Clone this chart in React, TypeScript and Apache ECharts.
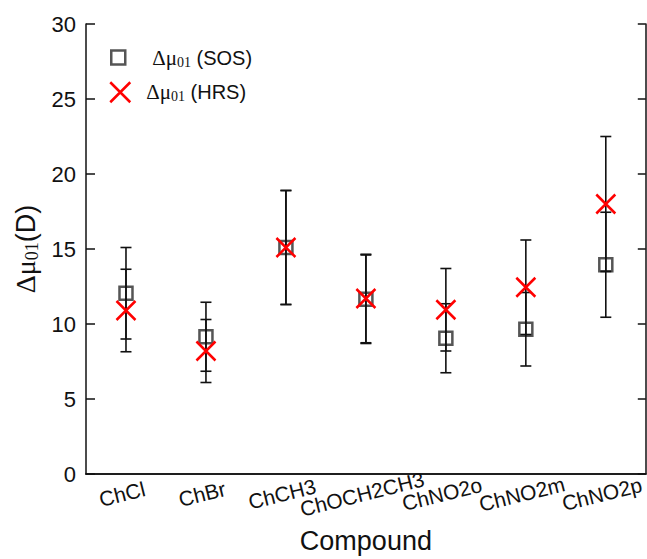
import React, { useEffect, useRef } from "react";
import * as echarts from "echarts";

const categories = ["ChCl", "ChBr", "ChCH3", "ChOCH2CH3", "ChNO2o", "ChNO2m", "ChNO2p"];
const sosValues = [12.05, 9.15, 15.1, 11.65, 9.05, 9.65, 13.95];
const sosErrors = [3.05, 2.3, 3.8, 2.95, 2.3, 2.45, 3.5];
const hrsValues = [10.9, 8.2, 15.1, 11.7, 10.95, 12.45, 18.0];
const hrsErrors = [2.75, 2.1, 3.8, 2.95, 2.75, 3.15, 4.5];
const yTicks = [0, 5, 10, 15, 20, 25, 30];

const SERIF = "'Liberation Serif', 'DejaVu Serif', serif";
const SANS = "'Liberation Sans', Arial, sans-serif";

const X_ICON = "path://M0,0L10,10M0,10L10,0";

export default function App() {
  const ref = useRef<HTMLDivElement>(null);
  useEffect(() => {
    if (!ref.current) return;
    document.body.style.margin = "0";
    document.body.style.overflow = "hidden";
    const chart = echarts.init(ref.current, undefined, { renderer: "svg" });

    const errData = (vals: number[], errs: number[]) =>
      vals.map((v, i) => [i, v - errs[i], v + errs[i]]);

    const renderErr = (params: any, api: any) => {
      const x = api.value(0);
      const lo = api.coord([x, api.value(1)]);
      const hi = api.coord([x, api.value(2)]);
      const w = 5.5;
      const style = { stroke: "#111", lineWidth: 1.6 };
      return {
        type: "group",
        children: [
          { type: "line", shape: { x1: lo[0], y1: lo[1], x2: hi[0], y2: hi[1] }, style },
          { type: "line", shape: { x1: lo[0] - w, y1: lo[1], x2: lo[0] + w, y2: lo[1] }, style },
          { type: "line", shape: { x1: hi[0] - w, y1: hi[1], x2: hi[0] + w, y2: hi[1] }, style },
        ],
      };
    };

    const legendRich = {
      d: { fontFamily: SERIF, fontSize: 21, color: "#111" },
      s: { fontFamily: SERIF, fontSize: 14, color: "#111", verticalAlign: "bottom", padding: [9, 0, 0, 0] },
      t: { fontFamily: SANS, fontSize: 20, color: "#111" },
    };

    chart.setOption({
      animation: false,
      backgroundColor: "#ffffff",
      grid: { left: 86, right: 1, top: 24, bottom: 83, containLabel: false },
      legend: [
        {
          data: [{ name: "SOS", icon: "rect" }],
          left: 105,
          top: 42,
          itemWidth: 14,
          itemHeight: 14,
          itemGap: 5,
          selectedMode: false,
          itemStyle: { color: "rgba(0,0,0,0)", borderColor: "#555", borderWidth: 2.5 },
          formatter: () => "{d|Δμ}{s|01}{t| (SOS)}",
          textStyle: { rich: legendRich, padding: [0, 0, 0, 22] },
        },
        {
          data: [{ name: "HRS", icon: X_ICON }],
          left: 104,
          top: 76,
          itemWidth: 22,
          itemHeight: 20,
          selectedMode: false,
          itemStyle: { color: "rgba(0,0,0,0)", borderColor: "#ff0000", borderWidth: 2.5 },
          formatter: () => "{d|Δμ}{s|01}{t| (HRS)}",
          textStyle: { rich: legendRich, padding: [0, 0, 0, 10] },
        },
      ],
      xAxis: [
        {
          type: "category",
          data: categories,
          position: "bottom",
          boundaryGap: true,
          name: "Compound",
          nameLocation: "middle",
          nameGap: 53,
          nameTextStyle: { fontFamily: SANS, fontSize: 27, color: "#111" },
          axisLine: { lineStyle: { color: "#111", width: 1.5 } },
          axisTick: { inside: true, alignWithLabel: true, length: 8, lineStyle: { color: "#111", width: 1.5 } },
          axisLabel: {
            rotate: 14,
            align: "center",
            verticalAlign: "middle",
            margin: 19,
            padding: [0, 8, 0, 0],
            fontFamily: SANS,
            fontSize: 21,
            color: "#111",
            interval: 0,
          },
          splitLine: { show: false },
        },
        {
          type: "category",
          data: categories,
          position: "top",
          boundaryGap: true,
          axisLine: { lineStyle: { color: "#111", width: 1.5 } },
          axisTick: { inside: true, alignWithLabel: true, length: 8, lineStyle: { color: "#111", width: 1.5 } },
          axisLabel: { show: false },
          splitLine: { show: false },
        },
      ],
      yAxis: [
        {
          type: "value",
          min: 0,
          max: 30,
          interval: 5,
          position: "left",
          name: "{d|Δμ}{s|01}{t|(D)}",
          nameLocation: "middle",
          nameRotate: 90,
          nameGap: 45,
          nameTextStyle: {
            rich: {
              d: { fontFamily: SERIF, fontSize: 28, color: "#111" },
              s: { fontFamily: SERIF, fontSize: 18, color: "#111", verticalAlign: "bottom", padding: [12, 0, 0, 0] },
              t: { fontFamily: SANS, fontSize: 27, color: "#111" },
            },
          },
          axisLine: { show: true, lineStyle: { color: "#111", width: 1.5 } },
          axisTick: { show: true, inside: true, length: 9, lineStyle: { color: "#111", width: 1.5 } },
          axisLabel: {
            fontFamily: SANS,
            fontSize: 22,
            color: "#111",
            margin: 10,
            formatter: (v: number) => (yTicks.includes(v) ? String(v) : ""),
          },
          splitLine: { show: false },
        },
        {
          type: "value",
          min: 0,
          max: 30,
          interval: 5,
          position: "right",
          axisLine: { show: true, lineStyle: { color: "#111", width: 1.5 } },
          axisTick: { show: true, inside: true, length: 8, lineStyle: { color: "#111", width: 1.5 } },
          axisLabel: { show: false },
          splitLine: { show: false },
        },
      ],
      series: [
        {
          name: "SOS",
          type: "scatter",
          symbol: "rect",
          symbolSize: 13,
          data: sosValues.map((v, i) => [i, v]),
          itemStyle: { color: "rgba(0,0,0,0)", borderColor: "#555", borderWidth: 2.5, opacity: 1 },
          z: 2,
        },
        {
          name: "SOS error",
          type: "custom",
          renderItem: renderErr,
          data: errData(sosValues, sosErrors),
          encode: { x: 0, y: [1, 2] },
          z: 3,
          silent: true,
        },
        {
          name: "HRS error",
          type: "custom",
          renderItem: renderErr,
          data: errData(hrsValues, hrsErrors),
          encode: { x: 0, y: [1, 2] },
          z: 3,
          silent: true,
        },
        {
          name: "HRS",
          type: "scatter",
          symbol: X_ICON,
          symbolSize: 19,
          data: hrsValues.map((v, i) => [i, v]),
          itemStyle: { color: "rgba(0,0,0,0)", borderColor: "#ff0000", borderWidth: 2.5, opacity: 1 },
          z: 4,
        },
      ],
    });
    return () => chart.dispose();
  }, []);
  return <div ref={ref} style={{ width: 647, height: 559, background: "#fff" }} />;
}
